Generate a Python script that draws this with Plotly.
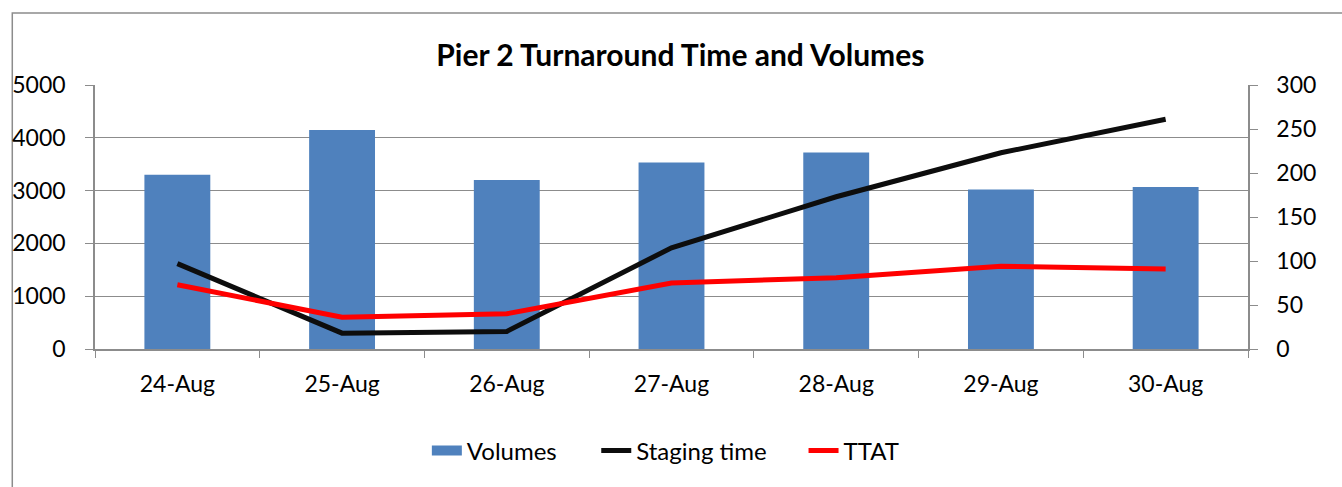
import plotly.graph_objects as go

categories = ["24-Aug", "25-Aug", "26-Aug", "27-Aug", "28-Aug", "29-Aug", "30-Aug"]
volumes = [3300, 4150, 3200, 3530, 3720, 3020, 3070]
staging_time = [97, 18, 20, 115, 173, 223, 261]
ttat = [73, 36, 40, 75, 81, 94, 91]

FONT = "Lato"
GRID = "#8c8c8c"
BLUE = "#4f81bd"
PL, PW = 91, 1157  # plot-area left and width in px


def px(p):
    return (p - PL) / PW


fig = go.Figure()
fig.add_trace(go.Bar(x=categories, y=volumes, name="Volumes", showlegend=False,
                     marker=dict(color=BLUE, line=dict(width=0))))
# legend key for the bars (wide rectangle like the original)
fig.add_trace(go.Scatter(x=[None], y=[None], name="Volumes", mode="lines", legend="legend",
                         line=dict(color=BLUE, width=16)))
fig.add_trace(go.Scatter(x=categories, y=staging_time, name="Staging time", yaxis="y2",
                         mode="lines", legend="legend2", line=dict(color="#0d0d0d", width=5)))
fig.add_trace(go.Scatter(x=categories, y=ttat, name="TTAT", yaxis="y2", legend="legend3",
                         mode="lines", line=dict(color="#ff0000", width=5)))

LEG_Y = -0.386
leg_common = dict(orientation="h", yanchor="middle", y=LEG_Y, xanchor="left",
                  font=dict(size=24, family=FONT), bgcolor="rgba(0,0,0,0)")

fig.update_layout(
    width=1342, height=487,
    margin=dict(l=91, r=94, t=85, b=138),
    paper_bgcolor="white", plot_bgcolor="white",
    font=dict(family=FONT, size=23, color="black"),
    title=dict(text="<b>Pier 2 Turnaround Time and Volumes</b>", x=0.507, xanchor="center",
               y=1 - 55 / 487, yanchor="middle", font=dict(size=30, family=FONT)),
    bargap=0.6,
    showlegend=True,
    legend=dict(x=px(436 - 12), **leg_common),
    legend2=dict(x=px(606 - 12), **leg_common),
    legend3=dict(x=px(814 - 12), **leg_common),
    xaxis=dict(type="category", range=[-0.5, 6.5], tickson="boundaries",
               ticks="outside", ticklen=7, tickcolor=GRID, showline=True, linecolor=GRID,
               linewidth=1.5, showgrid=False, ticklabelstandoff=14),
    yaxis=dict(range=[0, 5000], dtick=1000, ticks="outside", ticklen=8, tickcolor=GRID,
               showline=True, linecolor=GRID, linewidth=1.5, gridcolor=GRID, gridwidth=1,
               zeroline=False, ticklabelstandoff=15),
    yaxis2=dict(range=[0, 300], dtick=50, overlaying="y", side="right", ticks="outside",
                ticklen=8, tickcolor=GRID, showline=True, linecolor=GRID, linewidth=1.5,
                showgrid=False, zeroline=False, ticklabelstandoff=14),
)

# outer chart border
fig.add_shape(type="rect", xref="paper", yref="paper",
              x0=px(8), x1=px(1345),
              y0=(349 - 490) / 264, y1=(349 - 13) / 264,
              line=dict(color="#8c8c8c", width=1.5), fillcolor="rgba(0,0,0,0)", layer="below")

fig.write_html("out.html", config={"displayModeBar": False},
               post_script="document.body.style.margin='0';")
